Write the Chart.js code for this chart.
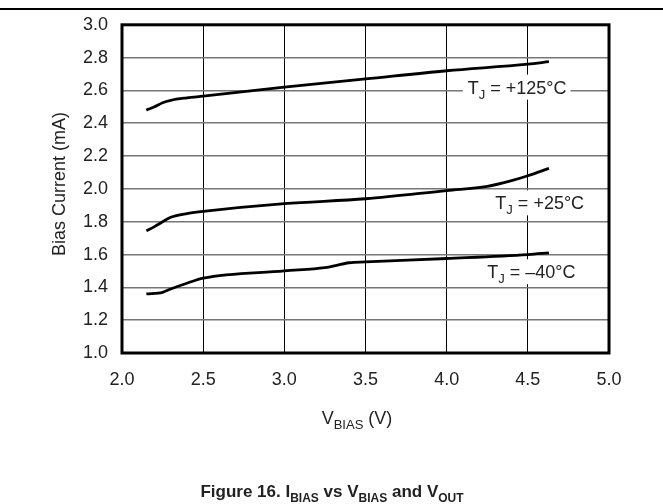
<!DOCTYPE html>
<html>
<head>
<meta charset="utf-8">
<script src="https://cdn.jsdelivr.net/npm/chart.js@4/dist/chart.umd.min.js"></script>
<style>
  html, body { margin: 0; padding: 0; background: #fff; }
  #wrap { width: 663px; height: 504px; position: relative; }
</style>
</head>
<body>
<div id="wrap"><canvas id="biasChart"></canvas></div>
<script>
// V_BIAS (V) sample points and bias current (mA) per junction temperature
const vbias125 = [2.15, 2.2, 2.25, 2.3, 2.4, 2.5, 3.0, 3.5, 4.0, 4.5, 4.63];
const ibias125 = [2.48, 2.50, 2.525, 2.54, 2.555, 2.565, 2.62, 2.67, 2.72, 2.76, 2.775];

const vbias25 = [2.15, 2.2, 2.25, 2.3, 2.4, 2.5, 3.0, 3.5, 4.0, 4.25, 4.4, 4.5, 4.63];
const ibias25 = [1.745, 1.77, 1.80, 1.827, 1.85, 1.863, 1.91, 1.94, 1.99, 2.015, 2.05, 2.08, 2.125];

const vbiasM40 = [2.15, 2.25, 2.3, 2.4, 2.5, 3.0, 3.25, 3.4, 3.5, 4.0, 4.5, 4.63];
const ibiasM40 = [1.36, 1.37, 1.39, 1.425, 1.456, 1.50, 1.52, 1.55, 1.555, 1.576, 1.60, 1.61];

const xTicks = [2.0, 2.5, 3.0, 3.5, 4.0, 4.5, 5.0];
const yTicks = [1.0, 1.2, 1.4, 1.6, 1.8, 2.0, 2.2, 2.4, 2.6, 2.8, 3.0];

// curve labels: text after the subscript, anchor (left edge in V, centre in mA)
const labelTexts = ['= +125°C', '= +25°C', '= –40°C'];
const labelX = [4.13, 4.30, 4.25];
const labelY = [2.617, 1.912, 1.492];

const FONT = '"Liberation Sans", Arial, Helvetica, sans-serif';

function pts(xs, ys) {
    return xs.map(function (x, i) { return { x: x, y: ys[i] }; });
}

// draws text pieces, [text, isSub], starting at x, baseline y
function richText(ctx, parts, x, y, size, bold, measureOnly) {
    let cx = x;
    parts.forEach(function (p) {
        const s = p[1] ? Math.round(size * 0.72) : size;
        ctx.font = (bold ? 'bold ' : '') + s + 'px ' + FONT;
        if (!measureOnly) ctx.fillText(p[0], cx, p[1] ? y + size * 0.28 : y);
        cx += ctx.measureText(p[0]).width;
    });
    return cx - x;
}

const decor = {
    id: 'decor',
    afterDatasetsDraw: function (chart) {
        const ctx = chart.ctx;
        const a = chart.chartArea;
        const xs = chart.scales.x, ys = chart.scales.y;
        ctx.save();
        ctx.fillStyle = '#222';
        ctx.textBaseline = 'alphabetic';
        ctx.textAlign = 'left';

        // curve labels on white boxes
        labelTexts.forEach(function (t, i) {
            const parts = [['T', false], ['J', true], [' ' + t, false]];
            const w = richText(ctx, parts, 0, 0, 18, false, true);
            const px = xs.getPixelForValue(labelX[i]);
            const py = ys.getPixelForValue(labelY[i]);
            ctx.fillStyle = '#fff';
            ctx.fillRect(px - 5, py - 13, w + 9, 25);
            ctx.fillStyle = '#222';
            richText(ctx, parts, px, py + 6, 18, false, false);
        });

        // frame
        ctx.strokeStyle = '#000';
        ctx.lineWidth = 3;
        ctx.strokeRect(a.left, a.top, a.right - a.left, a.bottom - a.top);

        // top rule
        ctx.lineWidth = 2;
        ctx.beginPath();
        ctx.moveTo(0, 9);
        ctx.lineTo(chart.width, 9);
        ctx.stroke();

        // x axis title
        const xt = [['V', false], ['BIAS', true], [' (V)', false]];
        const xw = richText(ctx, xt, 0, 0, 18, false, true);
        richText(ctx, xt, 357 - xw / 2, 424, 18, false, false);

        // y axis title
        ctx.save();
        ctx.translate(65, (a.top + a.bottom) / 2 - 5);
        ctx.rotate(-Math.PI / 2);
        ctx.font = '18px ' + FONT;
        ctx.textAlign = 'center';
        ctx.fillText('Bias Current (mA)', 0, 0);
        ctx.restore();

        // figure caption
        const cap = [['Figure 16. I', false], ['BIAS', true], [' vs V', false], ['BIAS', true],
                     [' and V', false], ['OUT', true]];
        const cw = richText(ctx, cap, 0, 0, 17, true, true);
        richText(ctx, cap, 332 - cw / 2, 497, 17, true, false);
        ctx.restore();
    }
};

new Chart(document.getElementById('biasChart').getContext('2d'), {
    type: 'line',
    data: {
        datasets: [
            { label: 'TJ = +125°C', data: pts(vbias125, ibias125) },
            { label: 'TJ = +25°C', data: pts(vbias25, ibias25) },
            { label: 'TJ = -40°C', data: pts(vbiasM40, ibiasM40) }
        ].map(function (d) {
            return Object.assign(d, {
                borderColor: '#000',
                borderWidth: 2.8,
                pointRadius: 0,
                fill: false,
                cubicInterpolationMode: 'monotone'
            });
        })
    },
    options: {
        responsive: true,
        maintainAspectRatio: false,
        animation: false,
        layout: { padding: { left: 0, right: 54, top: 24, bottom: 0 } },
        plugins: { legend: { display: false }, tooltip: { enabled: false } },
        scales: {
            x: {
                type: 'linear',
                min: 2.0,
                max: 5.0,
                afterFit: function (s) { s.height = 151; },
                afterBuildTicks: function (s) { s.ticks = xTicks.map(function (v) { return { value: v }; }); },
                grid: { color: '#000', lineWidth: 1, drawTicks: false },
                border: { display: false },
                ticks: {
                    color: '#222',
                    padding: 16,
                    font: { family: FONT, size: 18 },
                    maxRotation: 0,
                    callback: function (v) { return v.toFixed(1); }
                }
            },
            y: {
                min: 1.0,
                max: 3.0,
                afterFit: function (s) { s.width = 122; },
                afterBuildTicks: function (s) { s.ticks = yTicks.map(function (v) { return { value: v }; }); },
                grid: { color: '#777', lineWidth: 1.6, drawTicks: false },
                border: { display: false },
                ticks: {
                    color: '#222',
                    padding: 14,
                    font: { family: FONT, size: 18 },
                    callback: function (v) { return v.toFixed(1); }
                }
            }
        }
    },
    plugins: [decor]
});
</script>
</body>
</html>
